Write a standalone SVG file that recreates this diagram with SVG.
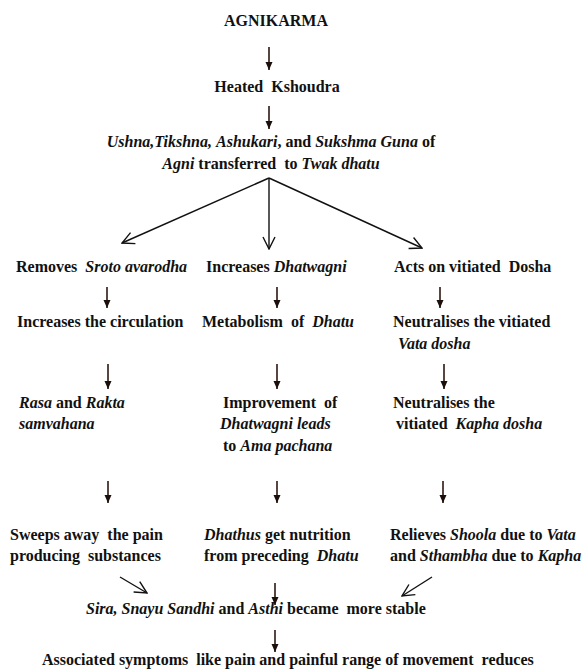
<svg xmlns="http://www.w3.org/2000/svg" width="584" height="672" viewBox="0 0 584 672">
<style>
  text { font-family: "Liberation Serif", "Times New Roman", serif; font-size: 16px; font-weight: bold; fill: #111; white-space: pre; }
  .i { font-style: italic; }
  .c { text-anchor: middle; }
  .arr { stroke: #2e1810; stroke-width: 1.6; fill: none; marker-end: url(#fh); }
  .fan { stroke: #111; stroke-width: 1.4; fill: none; marker-end: url(#vh); }
</style>
<defs>
  <marker id="fh" markerUnits="userSpaceOnUse" markerWidth="10" markerHeight="10" viewBox="0 0 10 10" refX="9" refY="5" orient="auto">
    <path d="M1,1.5 L9,5 L1,8.5 z" fill="#1a0f0a"/>
  </marker>
  <marker id="vh" markerUnits="userSpaceOnUse" markerWidth="14" markerHeight="14" viewBox="0 0 14 14" refX="13" refY="7" orient="auto">
    <path d="M1,1 L13,7 L1,13" fill="none" stroke="#111" stroke-width="1.4"/>
  </marker>
</defs>
<rect width="584" height="672" fill="#fff"/>

<g id="connectors">
  <line class="arr" x1="269" y1="47" x2="269" y2="70"/>
  <line class="arr" x1="269" y1="106" x2="269" y2="129"/>
  <line class="fan" x1="269" y1="178" x2="122" y2="243"/>
  <line class="fan" x1="269" y1="178" x2="269" y2="249"/>
  <line class="fan" x1="269" y1="178" x2="422" y2="248"/>
  <line class="arr" x1="107" y1="287" x2="107" y2="308"/>
  <line class="arr" x1="277" y1="287" x2="277" y2="308"/>
  <line class="arr" x1="440" y1="287" x2="440" y2="308"/>
  <line class="arr" x1="108" y1="364" x2="108" y2="389"/>
  <line class="arr" x1="277" y1="364" x2="277" y2="389"/>
  <line class="arr" x1="444" y1="364" x2="444" y2="389"/>
  <line class="arr" x1="108" y1="481" x2="108" y2="503"/>
  <line class="arr" x1="277" y1="481" x2="277" y2="503"/>
  <line class="arr" x1="443" y1="481" x2="443" y2="503"/>
  <line class="fan" x1="120" y1="577" x2="147" y2="593"/>
  <line class="fan" x1="432" y1="577" x2="402" y2="596"/>
  <line class="arr" x1="275" y1="583" x2="275" y2="605"/>
  <line class="arr" x1="275" y1="630" x2="275" y2="652"/>
</g>

<g id="n-agnikarma"><text class="c" x="276" y="26">AGNIKARMA</text></g>
<g id="n-heated"><text class="c" x="277" y="92">Heated  Kshoudra</text></g>
<g id="n-guna">
  <text class="c" x="271" y="147"><tspan class="i">Ushna,Tikshna,</tspan> <tspan class="i">Ashukari</tspan>, and <tspan class="i">Sukshma Guna</tspan> of</text>
  <text class="c" x="271" y="169"><tspan class="i">Agni</tspan> transferred  to <tspan class="i">Twak dhatu</tspan></text>
</g>

<g id="n-removes"><text x="16" y="272">Removes  <tspan class="i">Sroto avarodha</tspan></text></g>
<g id="n-increases-dhatwagni"><text x="206" y="272">Increases <tspan class="i">Dhatwagni</tspan></text></g>
<g id="n-acts"><text x="394" y="272">Acts on vitiated  Dosha</text></g>

<g id="n-circulation"><text x="17" y="327">Increases the circulation</text></g>
<g id="n-metabolism"><text x="202" y="327">Metabolism  of  <tspan class="i">Dhatu</tspan></text></g>
<g id="n-vata">
  <text x="393" y="327">Neutralises the vitiated</text>
  <text x="398" y="349"><tspan class="i">Vata dosha</tspan></text>
</g>

<g id="n-rasa">
  <text x="19" y="408"><tspan class="i">Rasa</tspan> and <tspan class="i">Rakta</tspan></text>
  <text x="19" y="429"><tspan class="i">samvahana</tspan></text>
</g>
<g id="n-improvement">
  <text x="223" y="408">Improvement  of</text>
  <text x="220" y="429"><tspan class="i">Dhatwagni leads</tspan></text>
  <text x="223" y="451">to <tspan class="i">Ama pachana</tspan></text>
</g>
<g id="n-kapha">
  <text x="393" y="408">Neutralises the</text>
  <text x="396" y="429">vitiated  <tspan class="i">Kapha dosha</tspan></text>
</g>

<g id="n-sweeps">
  <text x="10" y="540">Sweeps away  the pain</text>
  <text x="10" y="561">producing  substances</text>
</g>
<g id="n-dhathus">
  <text x="204" y="540"><tspan class="i">Dhathus</tspan> get nutrition</text>
  <text x="204" y="561">from preceding  <tspan class="i">Dhatu</tspan></text>
</g>
<g id="n-relieves">
  <text x="390" y="540">Relieves <tspan class="i">Shoola</tspan> due to <tspan class="i">Vata</tspan></text>
  <text x="390" y="561">and <tspan class="i">Sthambha</tspan> due to <tspan class="i">Kapha</tspan></text>
</g>

<g id="n-stable"><text x="86" y="614"><tspan class="i">Sira, Snayu Sandhi</tspan> and <tspan class="i">Asthi</tspan> became  more stable</text></g>
<g id="n-symptoms"><text x="42" y="665">Associated symptoms  like pain and painful range of movement  reduces</text></g>
</svg>
